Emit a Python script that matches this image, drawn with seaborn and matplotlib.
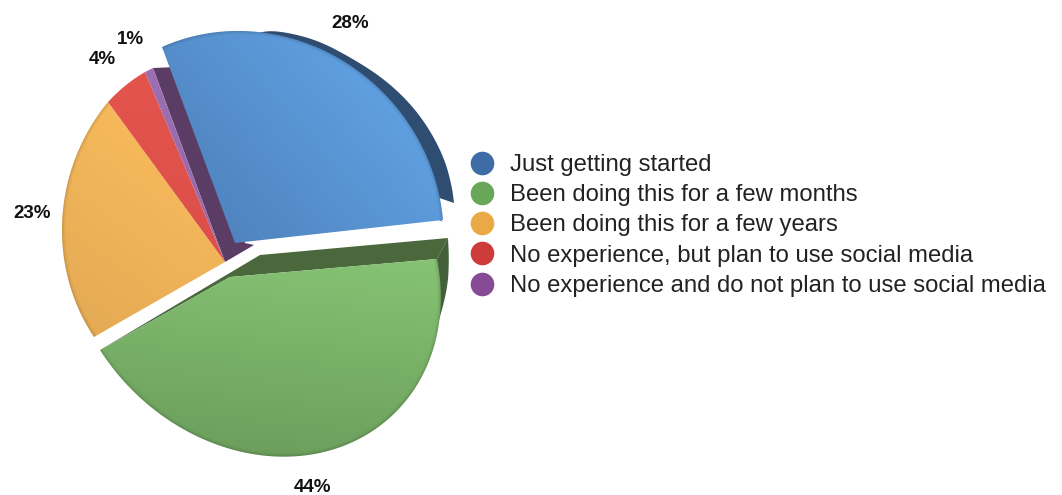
import numpy as np
import matplotlib
matplotlib.use("Agg")
import matplotlib.pyplot as plt
from matplotlib.colors import LinearSegmentedColormap
from matplotlib.lines import Line2D
from matplotlib.patches import Polygon
import seaborn as sns

# Survey answers and their shares in percent
categories = [
    "Just getting started",
    "Been doing this for a few months",
    "Been doing this for a few years",
    "No experience, but plan to use social media",
    "No experience and do not plan to use social media",
]
shares = [28, 44, 23, 4, 1]

sns.set_theme(style="white")
plt.rcParams["font.family"] = ["Liberation Sans", "DejaVu Sans"]
legend_colors = sns.color_palette(["#3d6ca6", "#69a758", "#eba945", "#cd3b3a", "#874b95"])

W, H = 1062, 495
fig = plt.figure(figsize=(W / 100, H / 100), dpi=100, facecolor="white")
ax = fig.add_axes([0, 0, 1, 1])

wedges, _ = ax.pie(shares, colors=legend_colors, startangle=110.4, counterclock=False)


def homography(src, dst):
    """Projective map taking four source points onto four destination points."""
    rows, rhs = [], []
    for (x, y), (u, v) in zip(src, dst):
        rows.append([x, y, 1, 0, 0, 0, -u * x, -u * y])
        rows.append([0, 0, 0, x, y, 1, -v * x, -v * y])
        rhs += [u, v]
    return np.append(np.linalg.solve(rows, rhs), 1).reshape(3, 3)


def project(M, pts):
    pts = np.c_[pts, np.ones(len(pts))] @ M.T
    return pts[:, :2] / pts[:, 2:]


def unit(t):
    return (np.cos(t), np.sin(t))


def tilted_arc(anchors, t0, t1, n=120):
    """Arc from t0 to t1 on the unit circle, carried onto the tilted outline."""
    M = homography([(0, 0), unit(t0), unit((t0 + t1) / 2), unit(t1)], anchors)
    arc = np.linspace(t0, t1, n)
    return project(M, np.c_[np.cos(arc), np.sin(arc)])


def rounded(points, passes=3):
    """Corner-cutting smoother for an open polyline; the end points stay put."""
    pts = np.asarray(points, float)
    for _ in range(passes):
        q = 0.75 * pts[:-1] + 0.25 * pts[1:]
        r = 0.25 * pts[:-1] + 0.75 * pts[1:]
        mid = np.empty((2 * len(q), 2))
        mid[0::2], mid[1::2] = q, r
        pts = np.vstack([pts[0], mid, pts[-1]])
    return pts


# Tilted outline of each slice on the canvas: apex, then three rim points
# taken at the slice's first, middle and last angle.
tilt = [
    ((235, 243), (443, 220), (342.5, 60.5), (162, 47)),
    ((230, 277), (100, 350), (308, 455), (437, 259)),
    ((225, 262), (108, 102), (62, 227), (94, 337)),
    ((225, 262), (145, 72), (125.5, 85.5), (108, 102)),
    ((225, 262), (153, 68), (149, 70), (145, 72)),
]
# Gradient stops per slice, plus the direction of the gradient on the canvas
face_shades = [
    ("#4b7db6", "#66aaee", (0.75, -0.65)),
    ("#6a9c5b", "#86c374", (0.1, -1.0)),
    ("#e3a954", "#fdbe5d", (0.6, -0.8)),
    ("#dc4f49", "#e3544d", (0, -1)),
    ("#9668ab", "#9c6eb2", (0, -1)),
]

# Extruded side walls sit underneath the slice faces
blue_wall = rounded([(250, 38), (262, 31), (283, 31.5), (317, 40), (350, 57), (383, 78), (410, 103),
                     (430, 130), (445, 160), (452, 187), (454, 203)])
green_wall = rounded([(448, 238), (449, 258), (448, 285), (440, 318), (431, 342)])
side_walls = [
    ("#2e4d70", np.vstack([[(443, 222)], blue_wall, [(300, 150)]])),
    ("#5b3c64", [(153, 68), (176, 67), (245, 243), (254, 245), (225, 262)]),
    ("#4a683c", [(260, 255), (448, 238), (437, 259), (230, 277), (100, 350)]),
    ("#43603a", np.vstack([green_wall, [(400, 300), (437, 259)]])),
]
for color, outline in side_walls:
    ax.add_patch(Polygon(outline, closed=True, facecolor=color, edgecolor="none", zorder=1))

for i, wedge in enumerate(wedges):
    wedge.set_visible(False)
    t0, t1 = np.radians([wedge.theta1, wedge.theta2])
    rim = tilted_arc(tilt[i], t0, t1)
    outline = np.vstack([[tilt[i][0]], rim])

    low, high, (dx, dy) = face_shades[i]
    x0, y0 = outline.min(axis=0)
    x1, y1 = outline.max(axis=0)
    xs, ys = np.meshgrid(np.linspace(x0, x1, 200), np.linspace(y0, y1, 200))
    ramp = xs * dx + ys * dy
    ramp = (ramp - ramp.min()) / (ramp.max() - ramp.min())
    cmap = LinearSegmentedColormap.from_list(f"face{i}", [low, high])
    clip = Polygon(outline, closed=True, facecolor="none", edgecolor="none",
                   transform=ax.transData)
    ax.add_patch(clip)
    image = ax.imshow(ramp, cmap=cmap, extent=(x0, x1, y1, y0), aspect="auto",
                      interpolation="bilinear", zorder=2 + i * 0.01)
    image.set_clip_path(clip)
    # Soft bevel along the outer rim
    if i < 3:
        for lw, alpha in ((5, 0.03), (3, 0.04), (1.5, 0.06)):
            line, = ax.plot(rim[:, 0], rim[:, 1], color="black", lw=lw, alpha=alpha, zorder=3)
            line.set_clip_path(clip)

ax.set_xlim(0, W)
ax.set_ylim(H, 0)
ax.set_aspect("auto")
ax.axis("off")

# Percentage labels around the pie
label_spots = [(350, 23), (312, 487), (32, 214), (102, 59), (130, 40)]
for share, (x, y) in zip(shares, label_spots):
    ax.text(x, y, f"{share}%", ha="center", va="center", fontsize=13.5,
            fontweight="bold", color="#111111", zorder=5)

handles = [Line2D([], [], linestyle="none", marker="o", markersize=17,
                  markerfacecolor=c, markeredgecolor="none") for c in legend_colors]
ax.legend(handles, categories, loc="center left", bbox_to_anchor=(465 / W, 1 - 225.5 / H),
          frameon=False, fontsize=17.2, labelspacing=0.345, handletextpad=0.42,
          handlelength=1.45, borderpad=0, borderaxespad=0, labelcolor="#222222")

fig.savefig("out.png", dpi=100)
